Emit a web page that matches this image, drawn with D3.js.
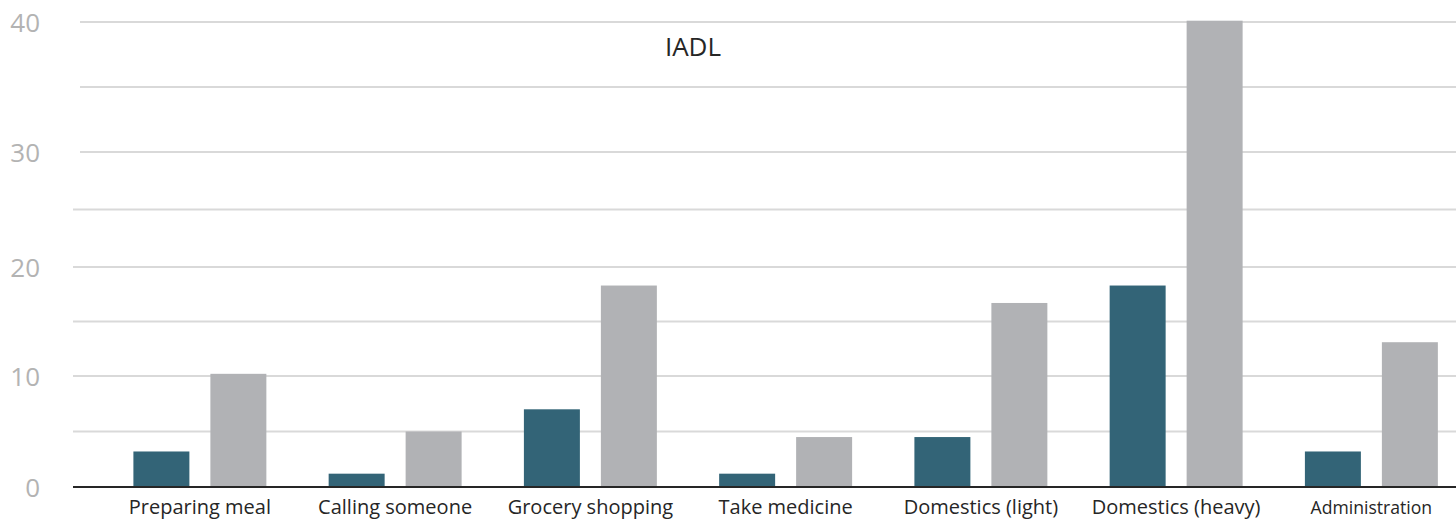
<!DOCTYPE html>
<html>
<head>
<meta charset="utf-8">
<script src="https://cdn.jsdelivr.net/npm/d3@7"></script>
<style>
  html, body { margin: 0; padding: 0; background: #fff; }
  svg { display: block; font-family: "Open Sans", "Noto Sans", sans-serif; }
</style>
</head>
<body>
<svg id="chart" width="1456" height="519"></svg>
<script>
const categories = ["Preparing meal", "Calling someone", "Grocery shopping", "Take medicine", "Domestics (light)", "Domestics (heavy)", "Administration"];
const seriesNames = ["Series A", "Series B"];
const seriesA = [3.2, 1.2, 7.0, 1.2, 4.5, 18.3, 3.2];
const seriesB = [10.2, 5.0, 18.3, 4.5, 16.7, 40.1, 13.1];
const yTickLabels = [0, 10, 20, 30, 40];
const gridValues = [5, 10, 15, 20, 25, 30, 35, 40];
const title = "IADL";
const colors = ["#336477", "#b1b2b5"];

const svg = d3.select("#chart");
const W = 1456, H = 519;
const plotLeft = 73;

// piecewise y scale (the source's axis spacing is uneven)
const y = d3.scaleLinear().domain([0, 10, 20, 30, 40]).range([487, 376, 267, 152, 22]);

const x = d3.scaleBand().domain(categories).range([133.4, 133.4 + 195.25 * 6.681]).paddingInner(0.319).paddingOuter(0);
const xs = d3.scaleBand().domain(seriesNames).range([0, x.bandwidth()]).paddingInner(0.2727).paddingOuter(0);

// gridlines
svg.append("g").selectAll("line").data(gridValues).join("line")
  .attr("x1", d => d >= 30 ? 80 : plotLeft).attr("x2", W)
  .attr("y1", d => y(d)).attr("y2", d => y(d))
  .attr("stroke", "#d9d9d9").attr("stroke-width", 2);

// y tick labels
svg.append("g").selectAll("text").data(yTickLabels).join("text")
  .attr("x", 40).attr("y", d => y(d))
  .attr("text-anchor", "end").attr("dominant-baseline", "central")
  .attr("fill", "#b3b3b3").attr("font-size", 26)
  .text(d => d);

// bars
const data = categories.map((c, i) => ({c, vals: [seriesA[i], seriesB[i]]}));
const groups = svg.append("g").selectAll("g").data(data).join("g")
  .attr("transform", d => `translate(${x(d.c)},0)`);
groups.selectAll("rect").data(d => d.vals.map((v, j) => ({s: seriesNames[j], v, j}))).join("rect")
  .attr("x", d => xs(d.s)).attr("width", xs.bandwidth())
  .attr("y", d => y(d.v)).attr("height", d => y(0) - y(d.v))
  .attr("fill", d => colors[d.j]);

// x axis line
svg.append("line").attr("x1", plotLeft).attr("x2", W).attr("y1", y(0)).attr("y2", y(0))
  .attr("stroke", "#262626").attr("stroke-width", 2);

// category labels
svg.append("g").selectAll("text").data(categories).join("text")
  .attr("x", d => x(d) + x.bandwidth() / 2).attr("y", 514)
  .attr("text-anchor", "middle").attr("fill", "#262626")
  .attr("font-size", d => d === "Administration" ? 17.6 : 20)
  .text(d => d);

// title
svg.append("text").attr("x", 693).attr("y", 56).attr("text-anchor", "middle")
  .attr("fill", "#262626").attr("font-size", 26).text(title);
</script>
</body>
</html>
